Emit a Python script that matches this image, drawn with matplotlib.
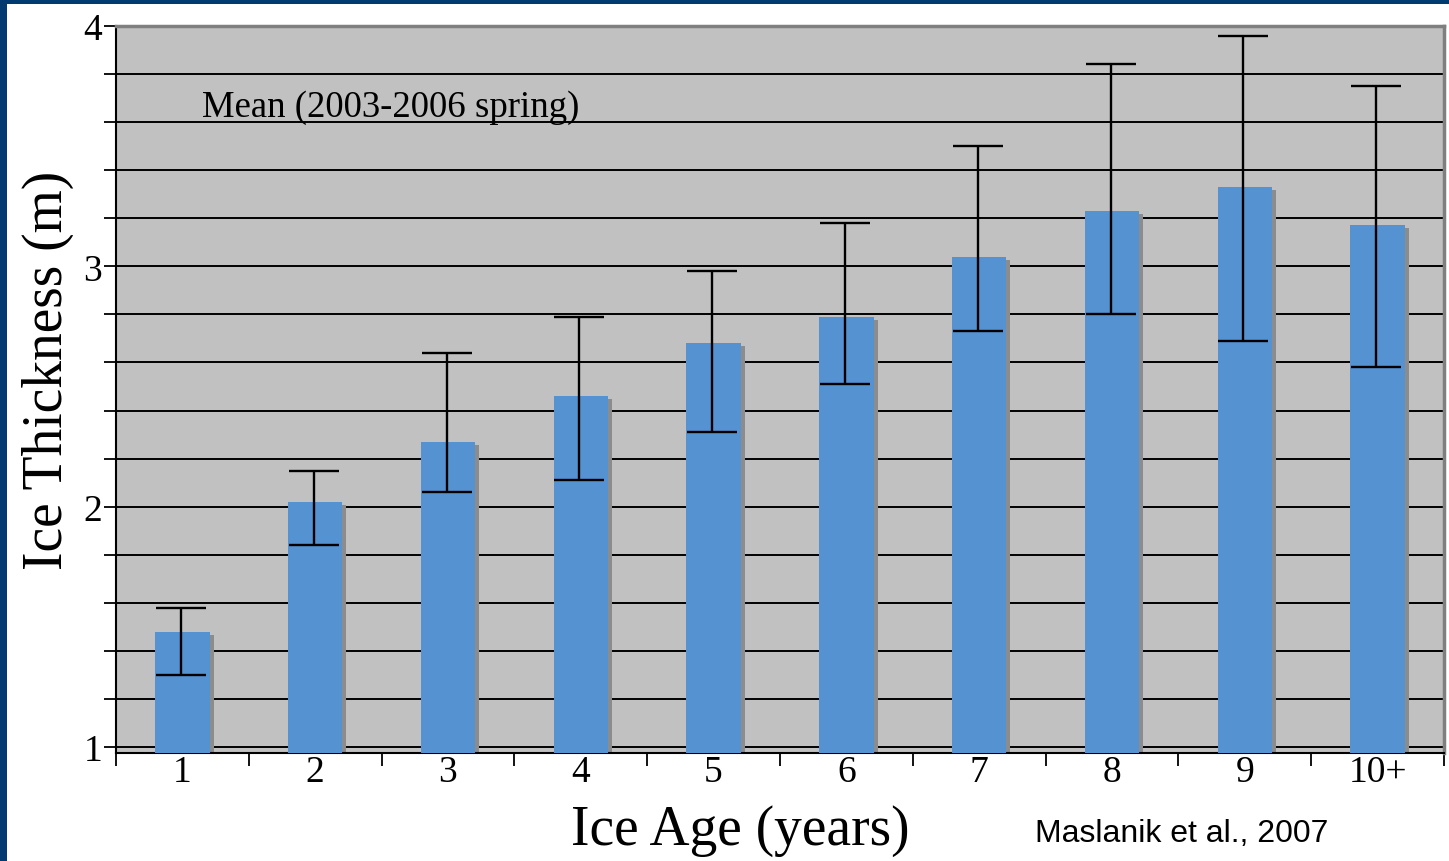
import matplotlib
matplotlib.use("Agg")
import matplotlib.pyplot as plt
import numpy as np
from matplotlib.patches import Rectangle

categories = ["1", "2", "3", "4", "5", "6", "7", "8", "9", "10+"]
mean_thickness = [1.48, 2.02, 2.27, 2.46, 2.68, 2.79, 3.04, 3.23, 3.33, 3.17]
err_upper = [1.58, 2.15, 2.64, 2.79, 2.98, 3.18, 3.50, 3.84, 3.96, 3.75]
err_lower = [1.30, 1.84, 2.06, 2.11, 2.31, 2.51, 2.73, 2.80, 2.69, 2.58]
y_ticks = [1, 2, 3, 4]

BAR = "#5592d2"
BG = "#c1c1c1"
NAVY = "#003a70"
SERIF = ["Liberation Serif", "DejaVu Serif"]

fig = plt.figure(figsize=(14.49, 8.62), dpi=100)
fig.patch.set_facecolor("white")
fig.patches.append(Rectangle((0, 0), 7 / 1449, 1, transform=fig.transFigure,
                             facecolor=NAVY, edgecolor="none", zorder=10))
fig.patches.append(Rectangle((0, 1 - 4.5 / 862), 1, 4.5 / 862, transform=fig.transFigure,
                             facecolor=NAVY, edgecolor="none", zorder=10))

ax = fig.add_axes([116 / 1449, 1 - 754 / 862, (1444 - 116) / 1449, (754 - 27) / 862])
ax.set_facecolor(BG)

x = np.arange(len(categories))
ymin = 0.975
ax.set_xlim(-0.5, len(categories) - 0.5)
ax.set_ylim(ymin, 4)

# gridlines
for g in np.arange(1.0, 3.9, 0.2):
    ax.axhline(g, color="black", lw=1.4, zorder=1)

heights = np.array(mean_thickness) - ymin
# shadow
ax.bar(x + 0.03, heights, width=0.41, bottom=ymin - 0.012, color="#8c8c8c",
       edgecolor="none", zorder=2)
ax.bar(x, heights, width=0.41, bottom=ymin, color=BAR, edgecolor="none", zorder=3)

yerr = [np.array(mean_thickness) - np.array(err_lower),
        np.array(err_upper) - np.array(mean_thickness)]
ax.errorbar(x - 0.01, mean_thickness, yerr=yerr, fmt="none", ecolor="black",
            elinewidth=1.7, capsize=18, capthick=1.7, zorder=4)

ax.text(0.15, 3.665, "Mean (2003-2006 spring)", fontsize=26.5, family=SERIF,
        ha="left", va="center", zorder=5)

ax.set_yticks(y_ticks)
ax.set_yticklabels([str(t) for t in y_ticks], fontsize=27, family=SERIF)
ax.set_yticks(np.arange(1.0, 4.01, 0.2), minor=True)
ax.tick_params(axis="y", which="both", direction="out", length=9, width=1.3,
               pad=1, color="black")

ax.set_xticks(x)
ax.set_xticklabels(categories, fontsize=27, family=SERIF)
ax.set_xticks(np.arange(-0.5, len(categories), 1.0), minor=True)
ax.tick_params(axis="x", which="major", length=0, pad=1)
ax.tick_params(axis="x", which="minor", direction="out", length=9, width=1.3)

for s in ["left", "bottom"]:
    ax.spines[s].set_color("black")
    ax.spines[s].set_linewidth(1.5)
for s in ["top", "right"]:
    ax.spines[s].set_color("#7f7f7f")
    ax.spines[s].set_linewidth(2.5)

fig.text(48 / 1449, 1 - 370 / 862, "Ice Thickness (m)", rotation=90, fontsize=40,
         family=SERIF, ha="center", va="center")
fig.text(740 / 1449, 1 - 831 / 862, "Ice Age (years)", fontsize=40,
         family=SERIF, ha="center", va="center")
fig.text(1035 / 1449, 1 - 834 / 862, "Maslanik et al., 2007", fontsize=23,
         family=["Liberation Sans", "DejaVu Sans"], ha="left", va="center")

fig.savefig("out.png", dpi=100, facecolor="white")
